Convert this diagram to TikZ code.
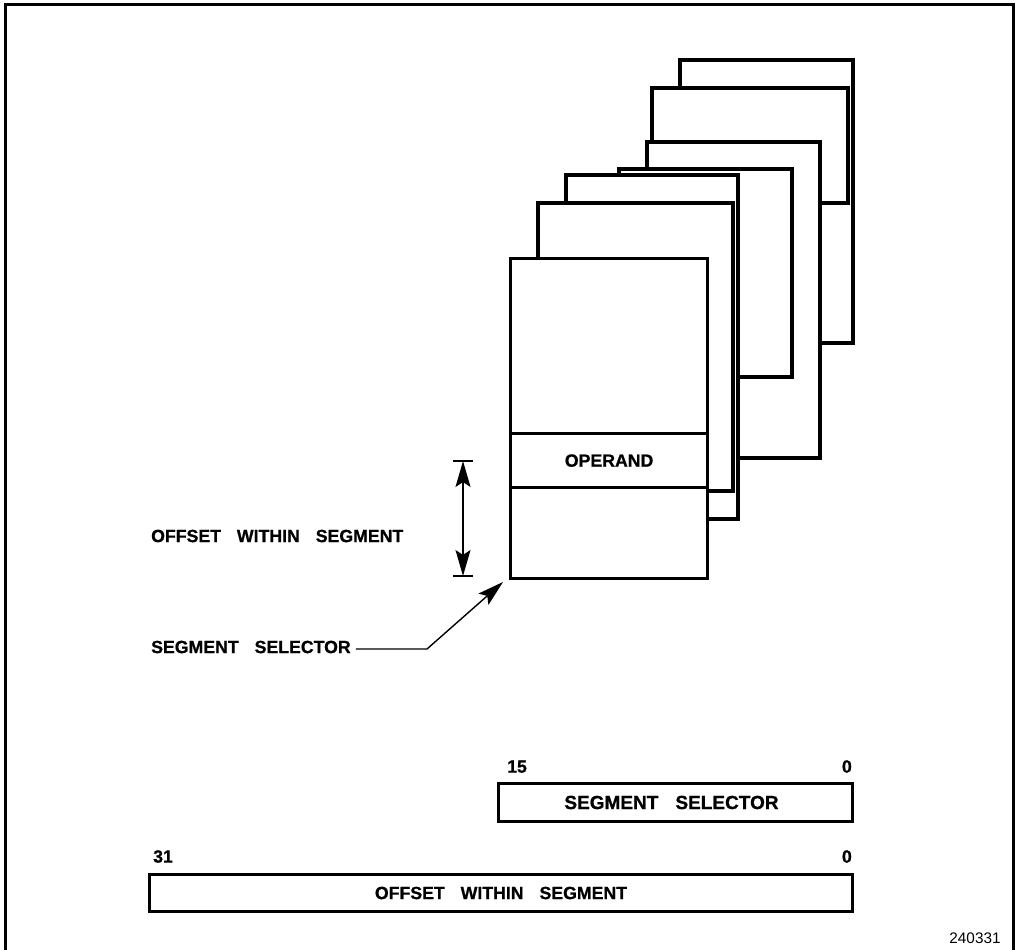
\documentclass[tikz,border=0pt]{standalone}
\usepackage{fontspec}
\setmainfont{Liberation Sans}[BoldFeatures={FakeBold=0.8}]
\usetikzlibrary{arrows.meta}
\newcommand{\wgap}{\hspace{0.9em}}

\begin{document}
\begin{tikzpicture}[x=1pt,y=-1pt,
    seg/.style={draw,line width=3.2pt,fill=white},
    lbl/.style={font=\fontsize{17.7}{20}\selectfont\bfseries,inner sep=0pt},
    biglbl/.style={font=\fontsize{19}{22}\selectfont\bfseries},
    fieldbox/.style={draw,line width=3pt,inner sep=0pt,anchor=north west},
    ptr/.tip={Stealth[length=26pt,width=15pt,inset=5pt]},
    thin/.style={line width=1.4pt},
  ]
    \useasboundingbox (0,0) rectangle (1017,950);
    \draw[line width=3pt] (5,950) -- (5,5) -- (1013,5) -- (1013,950);
    % segments, back to front
    \draw[seg] (680,60) rectangle (853,343);
    \draw[seg] (652,88) rectangle (848,203);
    \draw[seg] (647,142) rectangle (820,458);
    \draw[seg] (619,169) rectangle (792,377);
    \draw[seg] (566,175) rectangle (738,519);
    \draw[seg] (538,203) rectangle (733,491);
    \node[seg,anchor=north west,minimum width=197pt,minimum height=320pt,inner sep=0pt] (frontSeg) at (509,257) {};
    \node[seg,anchor=north west,minimum width=197pt,minimum height=54pt,inner sep=0pt,lbl] (operand) at (509,432) {OPERAND};
    % offset arrow
    \coordinate (offTop) at (463,461);
    \coordinate (offBot) at (463,576);
    \draw[thin,ptr-ptr] (offTop) -- (offBot);
    \draw[thin] ([xshift=-10pt]offTop) -- ([xshift=10pt]offTop);
    \draw[thin] ([xshift=-10pt]offBot) -- ([xshift=10pt]offBot);
    \node[lbl,anchor=west] (offLbl) at (151,536) {OFFSET\wgap WITHIN\wgap SEGMENT};
    % selector leader
    \node[lbl,anchor=west] (selLbl) at (151,647) {SEGMENT\wgap SELECTOR};
    \coordinate (selBend) at (427,649);
    \coordinate (selTip) at (503,582);
    \draw[thin,-ptr] ([xshift=5pt,yshift=-2pt]selLbl.east) -- (selBend) -- (selTip);
    % pointer fields
    \node[fieldbox,lbl,minimum width=354pt,minimum height=38pt] (selField) at (497,782) {};
    \node[lbl,biglbl] (selText) at ([xshift=-4pt]selField.center) {SEGMENT\wgap SELECTOR};
    \node[lbl,anchor=south west] (selHi) at ([xshift=10pt,yshift=9pt]selField.north west) {15};
    \node[lbl,anchor=south east] (selLo) at ([xshift=-2pt,yshift=9pt]selField.north east) {0};
    \node[fieldbox,lbl,minimum width=703pt,minimum height=37pt] (offField) at (148,873) {OFFSET\wgap WITHIN\wgap SEGMENT};
    \node[lbl,anchor=south west] (offHi) at ([xshift=5pt,yshift=10pt]offField.north west) {31};
    \node[lbl,anchor=south east] (offLo) at ([xshift=-2pt,yshift=10pt]offField.north east) {0};
    \node[font=\fontsize{15.3}{18}\selectfont,inner sep=0pt] (figNum) at (975,938) {240331};
\end{tikzpicture}
\end{document}
